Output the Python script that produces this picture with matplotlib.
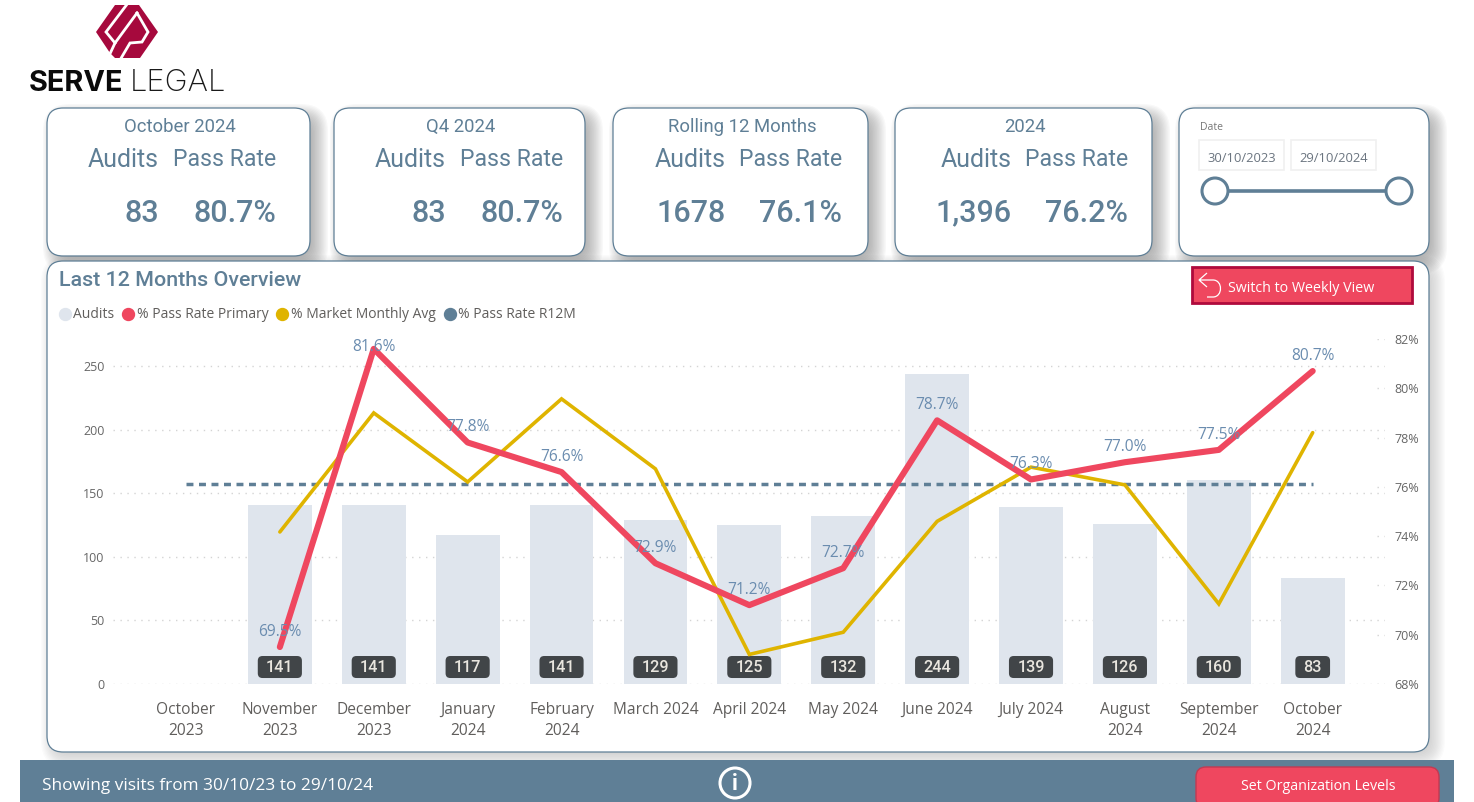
import matplotlib
matplotlib.use("Agg")
import matplotlib.pyplot as plt
from matplotlib.lines import Line2D
from matplotlib.patches import Circle, FancyBboxPatch, PathPatch, Polygon, Rectangle
from matplotlib.path import Path

# data
months = ["October\n2023", "November\n2023", "December\n2023", "January\n2024", "February\n2024",
          "March 2024", "April 2024", "May 2024", "June 2024", "July 2024",
          "August\n2024", "September\n2024", "October\n2024"]
audits = [None, 141, 141, 117, 141, 129, 125, 132, 244, 139, 126, 160, 83]
pass_primary = [None, 69.5, 81.6, 77.8, 76.6, 72.9, 71.2, 72.7, 78.7, 76.3, 77.0, 77.5, 80.7]
market_avg = [None, 74.17, 79.0, 76.2, 79.57, 76.73, 69.2, 70.1, 74.6, 76.8, 76.08, 71.25, 78.2]
pass_r12m = [76.1] * 13
left_ticks = [0, 50, 100, 150, 200, 250]
right_ticks = [68, 70, 72, 74, 76, 78, 80, 82]

card_titles = ["October 2024", "Q4 2024", "Rolling 12 Months", "2024"]
card_audits = ["83", "83", "1678", "1,396"]
card_rates = ["80.7%", "80.7%", "76.1%", "76.2%"]

W, H = 1474, 802
BLUE = "#5F7F96"
RED = "#EF475F"
GOLD = "#DFB400"
BAR = "#DFE5ED"
SANS = ["Open Sans", "DejaVu Sans"]
DIN = ["Roboto", "DejaVu Sans"]

fig = plt.figure(figsize=(W / 100, H / 100), dpi=100, facecolor="white")

# page furniture is drawn in pixel coordinates on one full size axes
bg = fig.add_axes([0, 0, 1, 1], zorder=-1)
bg.set_xlim(0, W)
bg.set_ylim(H, 0)
bg.axis("off")


def rbox(x0, y0, x1, y1, r=16, **kw):
    p = FancyBboxPatch((x0, y0), x1 - x0, y1 - y0,
                       boxstyle=f"round,pad=0,rounding_size={r}", **kw)
    bg.add_patch(p)
    return p


def card(x0, y0, x1, y1, shadow=0.035, dx=7, dy=7):
    for i in range(14):
        g = 11 - i * 1.3
        rbox(x0 + dx - g, y0 + dy - g, x1 + dx + g, y1 + dy + g, r=16 + max(g, 0),
             fc="#505050", ec="none", alpha=shadow)
    rbox(x0, y0, x1, y1, fc="white", ec=BLUE, lw=0.9)


# logo
bg.add_patch(Polygon([(96, 32), (115, 5), (139, 5), (158, 32), (140, 58), (115, 58), (110, 53)],
                     closed=True, fc="#A6093D", ec="none"))
for pts in [[(128, 3), (106, 32), (115, 43)],
            [(137, 13), (115, 43), (108, 58)],
            [(137, 13), (148, 32), (142, 42), (130, 43), (120, 60)]]:
    xs, ys = zip(*pts)
    bg.plot(xs, ys, color="white", lw=2.0, solid_joinstyle="miter")
bg.text(29, 91, "SERVE", family=["Inter", "DejaVu Sans"], weight="bold", fontsize=20.8, color="#0A0A0A", va="baseline")
bg.text(130, 91, "LEGAL", family=["Inter", "DejaVu Sans"], weight="light", fontsize=22.3, color="#1A1A1A", va="baseline")

# kpi cards
card_boxes = [(47, 310), (334, 585), (613, 868), (895, 1152)]
title_x = [180, 461, 742, 1025]
audit_x = [159, 446, 726, 1012]
rate_x = [276, 563, 842, 1128]
for x0, x1 in card_boxes:
    card(x0, 108, x1, 256)
for i in range(4):
    bg.text(title_x[i], 127, card_titles[i], family=DIN, fontsize=13.3, color=BLUE, ha="center", va="center")
    bg.text(audit_x[i], 160, "Audits", family=DIN, fontsize=18, color=BLUE, ha="right", va="center")
    bg.text(rate_x[i], 160, "Pass Rate", family=DIN, fontsize=16.6, color=BLUE, ha="right", va="center")
    bg.text(audit_x[i], 213, card_audits[i], family=DIN, weight="medium", fontsize=22, color=BLUE, ha="right", va="center")
    bg.text(rate_x[i], 213, card_rates[i], family=DIN, weight="medium", fontsize=22, color=BLUE, ha="right", va="center")

# date slicer
card(1179, 108, 1429, 256)
bg.text(1200, 128, "Date", family=SANS, fontsize=7.5, color="#777777", va="center")
for x0, label in [(1199, "30/10/2023"), (1291, "29/10/2024")]:
    bg.add_patch(Rectangle((x0, 140), 85, 30, fc="white", ec="#F0F0F0", lw=1.2))
    bg.text(x0 + 42.5, 158, label, family=SANS, fontsize=9.4, color="#6B7580", ha="center", va="center")
bg.plot([1215, 1399], [191, 191], color=BLUE, lw=2.6)
for cx in (1215, 1399):
    bg.add_patch(Circle((cx, 191), 13, fc="white", ec=BLUE, lw=2.2, zorder=3))

# main panel and footer
card(47, 261, 1429, 752, shadow=0.02, dx=5, dy=5)
bg.add_patch(Rectangle((20, 760), 1434, 42, fc=BLUE, ec="none"))
bg.text(42, 786, "Showing visits from 30/10/23 to 29/10/24", family=SANS, fontsize=12.4, color="white", va="center")
bg.add_patch(Circle((735, 783), 15, fc="none", ec="white", lw=2.2))
bg.text(735, 784, "i", family=DIN, weight="bold", fontsize=16, color="white", ha="center", va="center")
rbox(1196, 767, 1439, 808, r=10, fc=RED, ec="#C23A52", lw=1)
bg.text(1318, 787, "Set Organization Levels", family=SANS, fontsize=10.3, color="white", ha="center", va="center")
bg.set_xlim(0, W)
bg.set_ylim(H, 0)

bg.text(59, 281, "Last 12 Months Overview", family=DIN, weight="medium", fontsize=15.4, color=BLUE, va="center")

# switch button
bg.add_patch(Rectangle((1192, 267), 220, 36, fc=RED, ec="#AF0A3C", lw=2))
bg.add_patch(PathPatch(Path([(1207, 273), (1199, 280), (1207, 287), (1199, 280), (1213, 280),
                             (1223, 280), (1223, 297), (1213, 297), (1207, 297)],
                            [Path.MOVETO, Path.LINETO, Path.LINETO, Path.MOVETO, Path.LINETO,
                             Path.CURVE4, Path.CURVE4, Path.CURVE4, Path.LINETO]),
                       fc="none", ec="white", lw=0.9))
bg.text(1228, 289, "Switch to Weekly View", family=SANS, fontsize=10.3, color="white", va="center")

# chart axes
ax = fig.add_axes([113 / W, 1 - 684 / H, (1385 - 113) / W, (684 - 339) / H], zorder=1)
ax.patch.set_alpha(0)
xs = list(range(len(months)))
ax.bar(xs[1:], audits[1:], width=0.68, color=BAR, zorder=2)
ax.set_xlim(-0.777, 12.77)
ax.set_ylim(0, 271.2)
ax.set_yticks(left_ticks)
ax.set_xticks(xs)
ax.set_xticklabels(months, family=SANS, fontsize=11.2, color="#605E5C", linespacing=1.45, va="top")
ax.tick_params(axis="both", length=0)
ax.tick_params(axis="x", pad=13)
ax.tick_params(axis="y", pad=6, labelsize=9, labelcolor="#666666")
ax.grid(axis="y", color="#D4D4D4", lw=1, linestyle=(0, (1, 4)), zorder=1)
ax.set_axisbelow(True)
for s in ax.spines.values():
    s.set_visible(False)
for lab in ax.get_yticklabels():
    lab.set_family(SANS)

# badges are sized in data units: 1 px is 1/93.9 in x and 1/1.272 in y
for x, v in zip(xs[1:], audits[1:]):
    w = 0.47 if v >= 100 else 0.37
    ax.add_patch(FancyBboxPatch((x - w / 2, 4.7), w, 17.3, boxstyle="round,pad=0,rounding_size=0.05",
                                mutation_aspect=74, fc="#414548", ec="none", zorder=3))
    ax.text(x, 12.6, str(v), family=DIN, weight="medium", fontsize=11.6, color="#E9E6DF", ha="center", va="center",
            zorder=4)

ax2 = ax.twinx()
ax2.set_zorder(2)
ax2.patch.set_alpha(0)
ax2.set_ylim(68, 82)
ax2.set_yticks(right_ticks)
ax2.set_yticklabels([f"{t}%" for t in right_ticks], family=SANS, fontsize=9, color="#666666")
ax2.tick_params(axis="y", length=0, pad=7)
for s in ax2.spines.values():
    s.set_visible(False)
# only a short stub of the right axis grid shows at the edge
ax2.hlines(right_ticks, 12.68, 12.77, color="#D4D4D4", lw=1, linestyle=(0, (1, 4)))

ax2.plot(xs, pass_r12m, color=BLUE, lw=2.5, linestyle=(0, (2.0, 1.6)), zorder=2)
ax2.plot(xs[1:], market_avg[1:], color=GOLD, lw=2.6, solid_capstyle="round", solid_joinstyle="miter", zorder=3)
ax2.plot(xs[1:], pass_primary[1:], color=RED, lw=4.4, solid_capstyle="round", solid_joinstyle="round", zorder=4)
for x, v in zip(xs[1:], pass_primary[1:]):
    off = 1.6 if v > 81 else 11  # top label is squeezed against the plot edge
    ax2.annotate(f"{v:.1f}%", (x, v), xytext=(0, off), textcoords="offset points", ha="center", va="center",
                 family=SANS, fontsize=11.2, color="#6A8CAF", zorder=5)

legend_handles = [Line2D([], [], marker="o", linestyle="none", markersize=8.6, color=c)
                  for c in (BAR, RED, GOLD, BLUE)]
leg = fig.legend(legend_handles, ["Audits", "% Pass Rate Primary", "% Market Monthly Avg", "% Pass Rate R12M"],
                 loc="center left", bbox_to_anchor=(51 / W, 1 - 315 / H), ncol=4, frameon=False,
                 handletextpad=-0.39, columnspacing=0.0, borderaxespad=0, borderpad=0,
                 prop={"family": SANS, "size": 10}, labelcolor="#605E5C")

fig.savefig("out.png", dpi=100)
